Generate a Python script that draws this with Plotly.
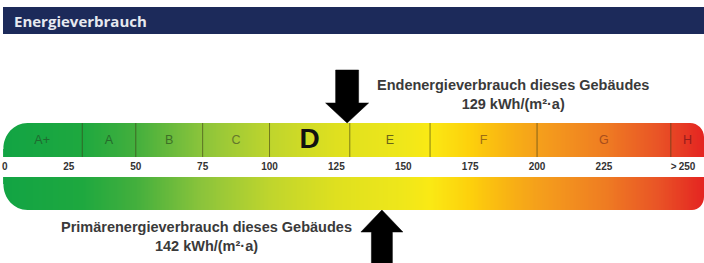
import numpy as np
import plotly.graph_objects as go

# ---- data ----
title_text = "Energieverbrauch"
class_labels = ["A+", "A", "B", "C", "D", "E", "F", "G", "H"]
class_edges = [0, 30, 50, 75, 100, 130, 160, 200, 250, 262.4]
class_label_colors = ["#1f6b30", "#256b2b", "#3d7026", "#64782c", "#111111",
                      "#6a6416", "#9c6c14", "#a84e1c", "#951c1c"]
tick_values = [0, 25, 50, 75, 100, 125, 150, 175, 200, 225, 250]
tick_labels = ["0", "25", "50", "75", "100", "125", "150", "175", "200", "225", ">\u2009250"]
end_energy = 129      # Endenergieverbrauch kWh/(m²·a)
primary_energy = 142  # Primärenergieverbrauch kWh/(m²·a)
grad_stops = [0, 30, 50, 75, 100, 125, 150, 160, 175, 190, 200, 225, 245, 262.4]
grad_colors = ["#12a444", "#1ea83f", "#43af3d", "#8cc43b", "#bfd52d", "#dfe01f",
               "#efe71a", "#fae914", "#fdd00c", "#f8b114", "#f5a01b", "#ef7d22",
               "#e95426", "#e42421"]

# ---- geometry helpers (pixel layout) ----
W, H = 704, 263
XMIN, XMAX = -0.75, 262.4
PXU = W / (XMAX - XMIN)  # pixels per unit


def pu(px):
    """pixel offset -> data units"""
    return px / PXU


def pp(px):
    """pixel x -> paper"""
    return px / W


fig = go.Figure()

colorscale = [[(s - grad_stops[0]) / (grad_stops[-1] - grad_stops[0]), c]
              for s, c in zip(grad_stops, grad_colors)]
xe = np.arange(0.4, XMAX + 0.01, 0.5)
xc = (xe[:-1] + xe[1:]) / 2
for (y0, y1) in [(123, 157), (177, 210)]:
    fig.add_trace(go.Heatmap(x=xe, y=[y0, y1], z=[xc], colorscale=colorscale,
                             zmin=grad_stops[0], zmax=grad_stops[-1],
                             showscale=False, hoverinfo="skip"))

# class dividers
dx, dy = [], []
for b in class_edges[1:-1]:
    dx += [b, b, None]
    dy += [123, 157, None]
fig.add_trace(go.Scatter(x=dx, y=dy, mode="lines",
                         line=dict(color="rgba(60,60,20,0.6)", width=1),
                         hoverinfo="skip", showlegend=False))

# class labels
mids = [(a + b) / 2 for a, b in zip(class_edges[:-1], class_edges[1:])]
cur = next(i for i in range(len(class_labels))
           if class_edges[i] <= end_energy < class_edges[i + 1])
txt = [("<b>%s</b>" % l if i == cur else l) for i, l in enumerate(class_labels)]
sizes = [28 if i == cur else 12.5 for i in range(len(class_labels))]
fig.add_trace(go.Scatter(x=mids, y=[141] * len(mids), mode="text", text=txt,
                         textfont=dict(family="Liberation Sans", size=sizes,
                                       color=class_label_colors),
                         hoverinfo="skip", showlegend=False))

# tick labels
pos = ["middle right"] + ["middle center"] * (len(tick_values) - 2) + ["middle right"]
fig.add_trace(go.Scatter(x=tick_values, y=[167] * len(tick_values), mode="text",
                         text=["<b>%s</b>" % t for t in tick_labels],
                         textposition=pos,
                         textfont=dict(family="Liberation Sans", size=10, color="#333333"),
                         hoverinfo="skip", showlegend=False))


def arrow(v, tip_y, direction, head_h, head_hw, shaft_hw, end_y):
    s = direction  # +1 down-pointing (body above), -1 up-pointing
    hy = tip_y - s * head_h
    xs = [v, v - pu(head_hw), v - pu(shaft_hw), v - pu(shaft_hw),
          v + pu(shaft_hw), v + pu(shaft_hw), v + pu(head_hw), v]
    ys = [tip_y, hy, hy, end_y, end_y, hy, hy, tip_y]
    return go.Scatter(x=xs, y=ys, mode="lines", fill="toself", fillcolor="#000000",
                      line=dict(color="#000000", width=0.5), hoverinfo="skip",
                      showlegend=False)


fig.add_trace(arrow(end_energy, 123, 1, 20, 21.5, 11.5, 70))
fig.add_trace(arrow(primary_energy, 210, -1, 22, 21, 10.5, 266))

k = 0.5523


def corner(cx, cy, rx, ry, sx, sy):
    """white mask for rounded corner; (cx,cy) = sharp corner, sx/sy = inward direction"""
    p = lambda x, y: "%f,%f" % (pp(x), y)
    x0, y0 = cx - sx * 3, cy - sy * 3
    path = ("M %s L %s L %s C %s %s %s L %s Z" % (
        p(x0, y0), p(cx + sx * rx, y0), p(cx + sx * rx, cy),
        p(cx + sx * rx * (1 - k), cy), p(cx, cy + sy * ry * (1 - k)),
        p(cx, cy + sy * ry), p(x0, cy + sy * ry)))
    return dict(type="path", path=path, xref="paper", yref="y",
                fillcolor="white", line=dict(width=0), layer="above")


shapes = [
    dict(type="rect", xref="paper", yref="y", x0=pp(3), x1=1, y0=7, y1=34,
         fillcolor="#1c2a5a", line=dict(width=0), layer="below"),
    corner(3.4, 123, 24, 26, 1, 1),
    corner(704, 123, 14, 14, -1, 1),
    corner(3.4, 210, 24, 26, 1, -1),
    corner(704, 210, 12, 13, -1, -1),
]

annotations = [
    dict(x=pp(12), y=21, xref="paper", yref="y", xanchor="left", yanchor="middle",
         text="<b>%s</b>" % title_text, showarrow=False,
         font=dict(family="Open Sans", size=15, color="#e6e9f0")),
    dict(x=pp(513), y=94.5, xref="paper", yref="y", xanchor="center", yanchor="middle",
         text="<b>Endenergieverbrauch dieses Gebäudes<br>%d kWh/(m²·a)</b>" % end_energy,
         showarrow=False, align="center",
         font=dict(family="Liberation Sans", size=14.5, color="#3a3a3a")),
    dict(x=pp(206), y=236.5, xref="paper", yref="y", xanchor="center", yanchor="middle",
         text="<b>Primärenergieverbrauch dieses Gebäudes<br>%d kWh/(m²·a)</b>" % primary_energy,
         showarrow=False, align="center",
         font=dict(family="Liberation Sans", size=14.5, color="#3a3a3a")),
]

fig.update_layout(
    width=W, height=H, margin=dict(l=0, r=0, t=0, b=0),
    paper_bgcolor="white", plot_bgcolor="white",
    xaxis=dict(range=[XMIN, XMAX], visible=False, fixedrange=True),
    yaxis=dict(range=[H, 0], visible=False, fixedrange=True),
    shapes=shapes, annotations=annotations, showlegend=False,
)

fig.write_html("out.html", config={"displayModeBar": False},
               post_script="document.body.style.margin='0';"
                           "document.body.style.overflow='hidden';")
